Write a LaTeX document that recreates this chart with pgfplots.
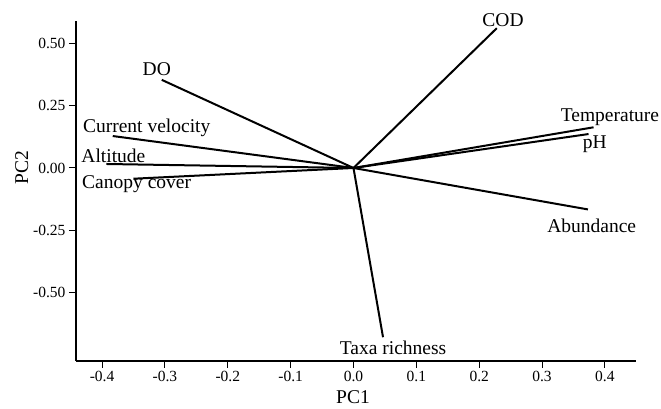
\documentclass[border=0pt]{standalone}
\usepackage{fontspec}
\setmainfont{Liberation Serif}
\usepackage{pgfplots}
\pgfplotsset{compat=1.18}
\begin{document}
\begin{tikzpicture}
\useasboundingbox (-76pt,-47.3pt) rectangle (585pt,360.7pt);
\begin{axis}[
  scale only axis, width=560pt, height=340pt,
  xmin=-0.4415, xmax=0.4495, ymin=-0.772, ymax=0.59,
  axis x line=bottom, axis y line=left,
  axis line style={-, line width=2pt},
  tick align=outside, major tick length=7pt,
  tick style={line width=1pt, black},
  xtick={-0.4,-0.3,-0.2,-0.1,0,0.1,0.2,0.3,0.4},
  xticklabels={\textrm{-0.4},\textrm{-0.3},\textrm{-0.2},\textrm{-0.1},\textrm{0.0},\textrm{0.1},\textrm{0.2},\textrm{0.3},\textrm{0.4}},
  ytick={-0.5,-0.25,0,0.25,0.5},
  yticklabels={\textrm{-0.50},\textrm{-0.25},\textrm{0.00},\textrm{0.25},\textrm{0.50}},
  tick label style={font=\rmfamily\fontsize{15.5}{15.5}\selectfont},
  xlabel={PC1}, ylabel={PC2},
  label style={font=\rmfamily\fontsize{19.5}{19.5}\selectfont},
  xlabel style={at={(rel axis cs:0.4946,0)}, anchor=center, yshift=-36.3pt},
  ylabel style={at={(rel axis cs:0,0.5668)}, anchor=center, yshift=54.3pt},
  clip=false,
]
\addplot[black, line width=2pt, mark=none] coordinates {(0,0) (0.228,0.56)};
\addplot[black, line width=2pt, mark=none] coordinates {(0,0) (0.382,0.163)};
\addplot[black, line width=2pt, mark=none] coordinates {(0,0) (0.374,0.136)};
\addplot[black, line width=2pt, mark=none] coordinates {(0,0) (0.373,-0.166)};
\addplot[black, line width=2pt, mark=none] coordinates {(0,0) (0.047,-0.678)};
\addplot[black, line width=2pt, mark=none] coordinates {(0,0) (-0.305,0.353)};
\addplot[black, line width=2pt, mark=none] coordinates {(0,0) (-0.383,0.128)};
\addplot[black, line width=2pt, mark=none] coordinates {(0,0) (-0.393,0.016)};
\addplot[black, line width=2pt, mark=none] coordinates {(0,0) (-0.350,-0.043)};
\begin{scope}[every node/.style={font=\rmfamily\fontsize{19.5}{19.5}\selectfont, inner sep=0pt, anchor=center}]
\node at (axis cs:0.238,0.593) {COD};
\node at (axis cs:0.408,0.204) {Temperature};
\node at (axis cs:0.384,0.096) {pH};
\node at (axis cs:0.379,-0.231) {Abundance};
\node at (axis cs:0.063,-0.722) {Taxa richness};
\node at (axis cs:-0.313,0.395) {DO};
\node at (axis cs:-0.329,0.161) {Current velocity};
\node at (axis cs:-0.382,0.049) {Altitude};
\node at (axis cs:-0.345,-0.065) {Canopy cover};
\end{scope}
\end{axis}
\end{tikzpicture}
\end{document}
